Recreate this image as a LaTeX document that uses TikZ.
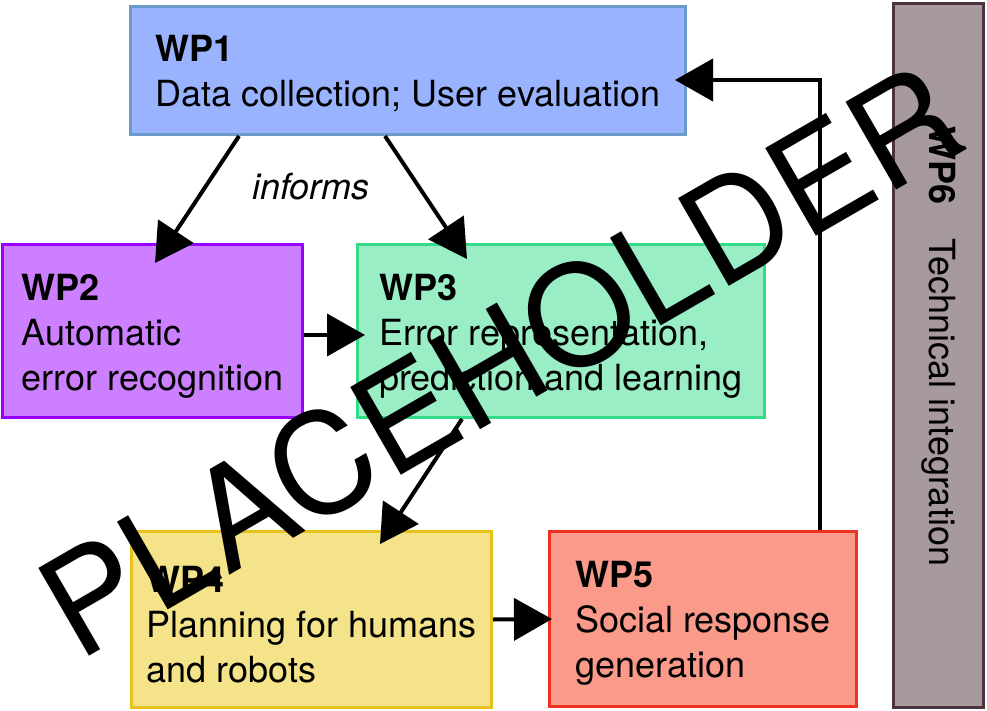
\documentclass[tikz,border=0pt]{standalone}
\usepackage{fontspec}
\setmainfont{TeX Gyre Heros}
\usetikzlibrary{arrows.meta,positioning}

\definecolor{wpAfill}{HTML}{99B3FF}
\definecolor{wpAline}{HTML}{6B9BCB}
\definecolor{wpBfill}{HTML}{CC80FF}
\definecolor{wpBline}{HTML}{9900FF}
\definecolor{wpCfill}{HTML}{99EEC6}
\definecolor{wpCline}{HTML}{33DD88}
\definecolor{wpDfill}{HTML}{F5E38A}
\definecolor{wpDline}{HTML}{E8C21C}
\definecolor{wpEfill}{HTML}{F99A8A}
\definecolor{wpEline}{HTML}{EE3322}
\definecolor{wpFfill}{HTML}{A69A9D}
\definecolor{wpFline}{HTML}{4D3340}

\begin{document}
\begin{tikzpicture}[x=1pt, y=-1pt,
wp/.style={rectangle, line width=3pt, align=left, inner sep=0pt, font=\fontsize{36}{45}\selectfont, text depth=7pt},
link/.style={line width=4pt, -{Triangle[length=38pt, width=42pt]}},
]
\useasboundingbox (0,0) rectangle (987,711);

%Work packages
\node[wp, fill=wpAfill, draw=wpAline, minimum width=555pt, minimum height=128pt, text height=80pt] (wp1) at (408,70.5) {\textbf{WP1}\\Data collection; User evaluation};
\node[wp, fill=wpBfill, draw=wpBline, minimum width=300pt, minimum height=173pt, text height=125pt] (wp2) at (152.5,331) {\textbf{WP2}\\Automatic\\error recognition};
\node[wp, fill=wpCfill, draw=wpCline, minimum width=407pt, minimum height=173pt, text height=125pt] (wp3) at (561,331) {\textbf{WP3}\\Error representation,\\prediction and learning};
\node[wp, fill=wpDfill, draw=wpDline, minimum width=360pt, minimum height=176pt, text height=132pt] (wp4) at (311.5,619.5) {\textbf{WP4}\\Planning for humans\\and robots};
\node[wp, fill=wpEfill, draw=wpEline, minimum width=307pt, minimum height=175pt, text height=123pt] (wp5) at (703,619) {\textbf{WP5}\\Social response\\generation};
\node[wp, fill=wpFfill, draw=wpFline, rotate=-90, minimum width=704pt, minimum height=90pt, text height=26pt] (wp6) at (938.5,355.5) {\textbf{WP6}\hspace{33pt}Technical integration\hspace*{18pt}};

%Connections
\draw[link] ([xshift=110pt]wp1.south west) -- ([shift={(154,20)}]wp2.north west);
\draw[link] ([xshift=256pt]wp1.south west) -- ([shift={(111,16)}]wp3.north west);
\draw[link] ([shift={(0,4)}]wp2.east) -- ([shift={(9,4)}]wp3.west);
\draw[link] ([xshift=106pt]wp3.south west) -- ([shift={(250,14)}]wp4.north west);
\draw[link] (wp4.east) -- ([xshift=4pt]wp5.west);
\draw[link] ([xshift=-38pt]wp5.north east) |- ([shift={(-12,9.5)}]wp1.east);

%Label
\node[font=\fontsize{36}{45}\selectfont\itshape, anchor=base] (informs) at (311,200) {informs};

%Watermark
\node[rotate=30, anchor=base, font=\fontsize{139}{139}\selectfont] (ph) at (525.5,404) {PLACEHOLDER};
\end{tikzpicture}
\end{document}
